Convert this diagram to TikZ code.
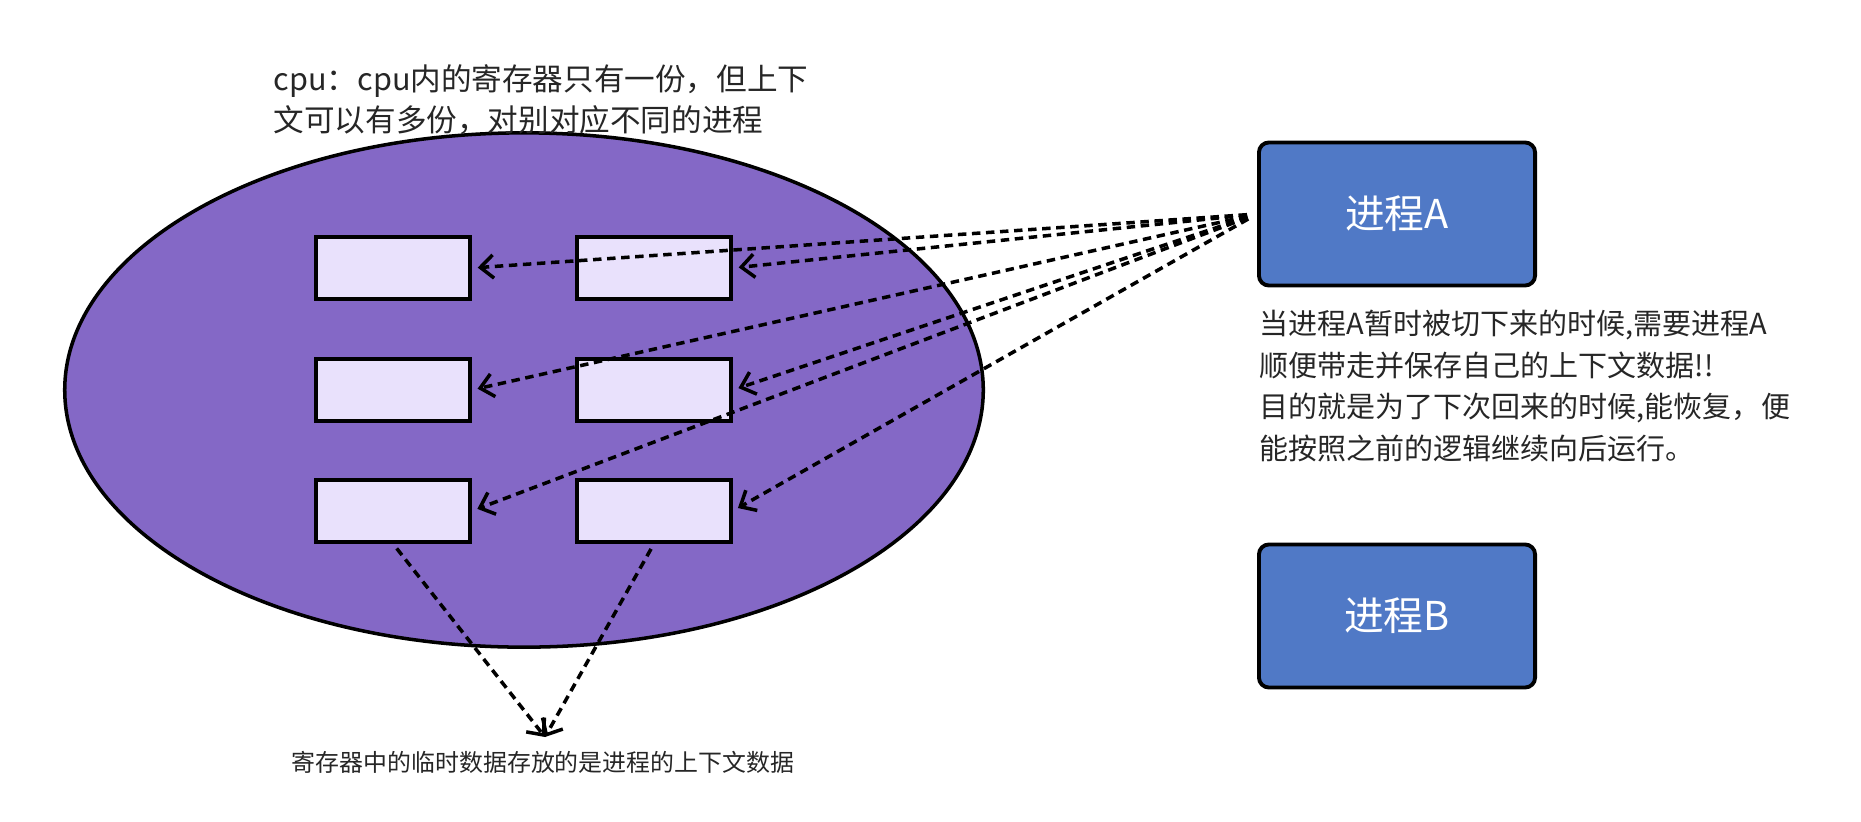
\documentclass[tikz,border=0pt]{standalone}
\usepackage{fontspec}
\usepackage{tikz}
\usetikzlibrary{shapes.geometric,arrows.meta}
\newfontfamily\cjk{Noto Sans CJK SC}
\definecolor{cpupurple}{RGB}{132,104,198}
\definecolor{reglilac}{RGB}{233,225,252}
\definecolor{procblue}{RGB}{80,121,198}
\definecolor{textgray}{RGB}{38,38,38}

\begin{document}
\begin{tikzpicture}[x=0.01cm,y=-0.01cm,
		reg/.style={draw,line width=0.95pt,fill=reglilac,minimum width=1.54cm,minimum height=0.62cm,inner sep=0pt},
		proc/.style={draw,line width=1.1pt,rounded corners=0.1cm,fill=procblue,minimum width=2.76cm,minimum height=1.43cm,text=white,font=\cjk\fontsize{11.3pt}{13pt}\selectfont},
		txt/.style={inner sep=0pt,text=textgray,align=left},
		ctx/.style={dash pattern=on 2.4pt off 1.6pt,line width=1pt,-{Straight Barb[length=3.7pt,width=6.6pt]}}]
		\useasboundingbox (0,0) rectangle (1861,821);
		\node[ellipse,draw,line width=1pt,fill=cpupurple,minimum width=9.18cm,minimum height=5.14cm] (cpu) at (524,390){};
		\node[reg] (reg11) at (393,268){};
		\node[reg] (reg12) at (654,268){};
		\node[reg] (reg21) at (393,390){};
		\node[reg] (reg22) at (654,390){};
		\node[reg] (reg31) at (393,511){};
		\node[reg] (reg32) at (654,511){};
		\node[txt,anchor=west,font=\cjk\fontsize{8.7pt}{11.7pt}\selectfont] (cpulabel) at (273,100){cpu：cpu内的寄存器只有一份，但上下\\文可以有多份，对别对应不同的进程};
		%%%%%%%%%%%%%%%%%%%%%%%%%%%%%%%%%
		\node[proc] (procA) at (1397,214){进程A};
		\node[proc] (procB) at (1397,616){进程B};
		\node[txt,anchor=west,font=\cjk\fontsize{8.25pt}{11.9pt}\selectfont] (switchnote) at (1259,386){当进程A暂时被切下来的时候,需要进程A\\顺便带走并保存自己的上下文数据!!\\目的就是为了下次回来的时候,能恢复，便\\能按照之前的逻辑继续向后运行。};
		%%%%%%%%%%%%%%%%%%%%%%%%%%%%%%%%%
		\draw[ctx,shorten <=0.1cm,shorten >=0.06cm] (procA.west) -- (reg12.east);
		\draw[ctx,shorten <=0.1cm,shorten >=0.06cm] (procA.west) -- (reg11.east);
		\draw[ctx,shorten <=0.1cm,shorten >=0.06cm] (procA.west) -- (reg21.east);
		\draw[ctx,shorten <=0.1cm,shorten >=0.06cm] (procA.west) -- (reg22.east);
		\draw[ctx,shorten <=0.1cm,shorten >=0.06cm] (procA.west) -- (reg31.east);
		\draw[ctx,shorten <=0.1cm,shorten >=0.06cm] (procA.west) -- (reg32.east);
		%%%%%%%%%%%%%%%%%%%%%%%%%%%%%%%%%
		\coordinate (tip) at (545,737);
		\draw[ctx,shorten <=0.06cm] (reg31.south) -- (tip);
		\draw[ctx,shorten <=0.06cm] (reg32.south) -- (tip);
		\node[txt,font=\cjk\fontsize{6.8pt}{8pt}\selectfont] (tmpnote) at (543,762){寄存器中的临时数据存放的是进程的上下文数据};
	\end{tikzpicture}
\end{document}
